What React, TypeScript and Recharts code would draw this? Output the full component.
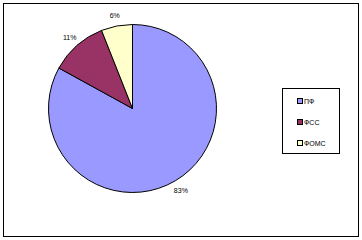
import { PieChart, Pie, Cell, Legend } from "recharts";

const funds = ["ПФ", "ФСС", "ФОМС"];
const shares = [83, 11, 6];
const fills = ["#9999FF", "#993366", "#FFFFCC"];

const data = funds.map((name, i) => ({ name, value: shares[i] }));

const RAD = Math.PI / 180;
const FONT = "'Liberation Sans', Arial, sans-serif";

function renderLabel(props: any) {
  const { cx, cy, midAngle, outerRadius, value } = props;
  const r = outerRadius + 11;
  const x = cx + r * Math.cos(-midAngle * RAD);
  const y = cy + r * Math.sin(-midAngle * RAD);
  return (
    <text
      x={x}
      y={y}
      fill="#000"
      fontSize={7}
      fontFamily={FONT}
      textAnchor="middle"
      dominantBaseline="central"
    >
      {`${value}%`}
    </text>
  );
}

function LegendBox() {
  return (
    <div
      style={{
        width: 58,
        height: 66,
        border: "1px solid #000",
        background: "#fff",
        boxSizing: "border-box",
        position: "relative",
        fontFamily: FONT,
        fontSize: 7,
      }}
    >
      {funds.map((name, i) => (
        <div
          key={name}
          style={{
            position: "absolute",
            left: 14,
            top: 8 + i * 21,
            display: "flex",
            alignItems: "center",
            height: 8,
          }}
        >
          <span
            style={{
              width: 4,
              height: 4,
              border: "1px solid #000",
              background: fills[i],
              display: "inline-block",
              marginRight: 1,
            }}
          />
          <span>{name}</span>
        </div>
      ))}
    </div>
  );
}

export default function App() {
  return (
    <div style={{ position: "fixed", left: 0, top: 0, width: 362, height: 240, background: "#fff" }}>
      <div
        style={{
          position: "absolute",
          left: 3,
          top: 3,
          width: 356,
          height: 234,
          border: "1px solid #000",
          boxSizing: "border-box",
        }}
      />
      <PieChart
        width={362}
        height={240}
        margin={{ top: 0, right: 0, bottom: 0, left: 0 }}
        style={{ position: "absolute", left: 0, top: 0 }}
      >
        <Pie
          data={data}
          dataKey="value"
          nameKey="name"
          cx={132.5}
          cy={108.5}
          outerRadius={84}
          startAngle={90}
          endAngle={-270}
          stroke="#000"
          strokeWidth={1}
          label={renderLabel}
          labelLine={false}
          isAnimationActive={false}
        >
          {data.map((d, i) => (
            <Cell key={d.name} fill={fills[i]} />
          ))}
        </Pie>
        <Legend
          content={() => <LegendBox />}
          wrapperStyle={{ position: "absolute", left: 282, top: 88, width: 58, height: 66 }}
        />
      </PieChart>
    </div>
  );
}
